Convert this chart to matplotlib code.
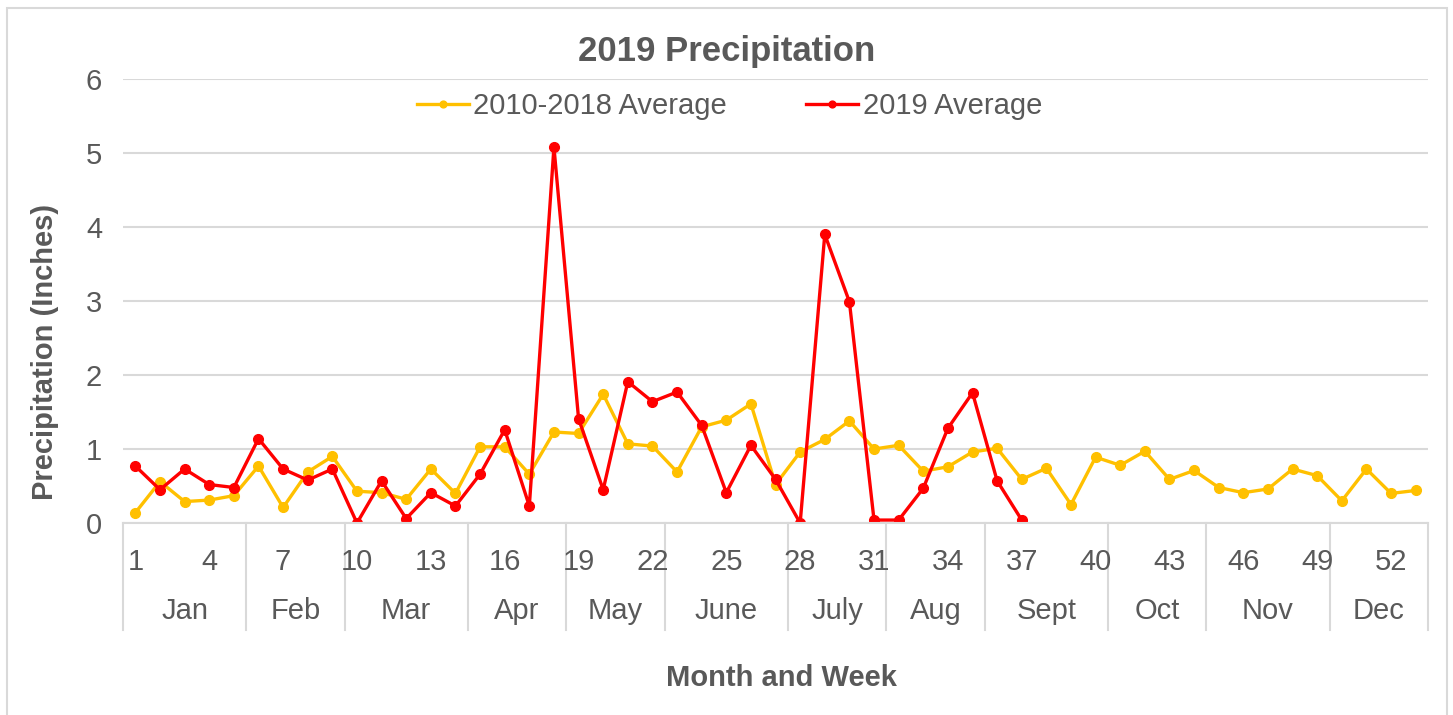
import numpy as np
import matplotlib
matplotlib.use('Agg')
import matplotlib.pyplot as plt
from matplotlib.patches import Rectangle
import matplotlib.transforms as mtransforms

plt.rcParams.update({'font.family': ['Liberation Sans', 'DejaVu Sans'],
                     'figure.facecolor': 'white', 'axes.facecolor': 'white'})
TXT = '#595959'
GRID = '#d9d9d9'
YELLOW = '#FFC000'
RED = '#FF0000'

weeks = list(range(1, 54))
avg_2010_2018 = [0.14, 0.56, 0.29, 0.31, 0.37, 0.77, 0.21, 0.69, 0.90, 0.43,
                 0.41, 0.32, 0.73, 0.40, 1.03, 1.03, 0.66, 1.23, 1.21, 1.74,
                 1.07, 1.04, 0.69, 1.30, 1.39, 1.61, 0.52, 0.96, 1.13, 1.38,
                 1.00, 1.05, 0.70, 0.76, 0.96, 1.01, 0.59, 0.74, 0.25, 0.89,
                 0.78, 0.97, 0.59, 0.71, 0.48, 0.41, 0.46, 0.73, 0.64, 0.30,
                 0.73, 0.40, 0.44]
avg_2019 = [0.77, 0.45, 0.73, 0.52, 0.48, 1.14, 0.73, 0.58, 0.73, 0.00,
            0.57, 0.06, 0.41, 0.23, 0.66, 1.26, 0.23, 5.08, 1.41, 0.45,
            1.91, 1.64, 1.77, 1.32, 0.41, 1.05, 0.59, 0.00, 3.90, 2.99,
            0.04, 0.04, 0.47, 1.28, 1.76, 0.57, 0.04]
avg_2019 = avg_2019 + [np.nan] * (len(weeks) - len(avg_2019))

months = ['Jan', 'Feb', 'Mar', 'Apr', 'May', 'June', 'July', 'Aug', 'Sept', 'Oct', 'Nov', 'Dec']
month_weeks = [5, 4, 5, 4, 4, 5, 4, 4, 5, 4, 5, 4]
tick_weeks = list(range(1, 54, 3))

fig = plt.figure(figsize=(14.53, 7.15), dpi=100)
ax = fig.add_axes([0.0847, 0.2685, 0.8981, 0.621])

ax.plot(weeks, avg_2010_2018, color=YELLOW, lw=2.4, marker='o', ms=7, label='2010-2018 Average')
ax.plot(weeks, avg_2019, color=RED, lw=2.4, marker='o', ms=7, label='2019 Average')

ax.set_xlim(0.5, 53.5)
ax.set_ylim(0, 6)
ax.set_yticks(range(0, 7))
ax.yaxis.grid(True, color=GRID, lw=1.5)
ax.set_axisbelow(True)
for s in ['left', 'right', 'top']:
    ax.spines[s].set_visible(False)
ax.spines['bottom'].set_color(GRID)
ax.spines['bottom'].set_linewidth(1.5)
ax.tick_params(axis='y', length=0, pad=15, labelsize=21, labelcolor=TXT)
ax.set_xticks(tick_weeks)
ax.set_xticklabels([str(w) for w in tick_weeks])
ax.tick_params(axis='x', length=0, pad=18, labelsize=21, labelcolor=TXT)

# month group labels and separators below the axis
trans = mtransforms.blended_transform_factory(ax.transData, ax.transAxes)
edges = np.concatenate([[0], np.cumsum(month_weeks)]) + 0.5
for i, name in enumerate(months):
    ax.text((edges[i] + edges[i + 1]) / 2, -0.198, name, transform=trans,
            ha='center', va='center', fontsize=21, color=TXT)
for e in edges:
    ax.plot([e, e], [0, -0.241], transform=trans, color=GRID, lw=1.5,
            clip_on=False, zorder=0.1)

fig.text(0.5, 0.928, '2019 Precipitation', ha='center', va='center',
         fontsize=25, fontweight='bold', color=TXT)
fig.text(0.5375, 0.052, 'Month and Week', ha='center', va='center',
         fontsize=21, fontweight='bold', color=TXT)
fig.text(0.031, 0.508, 'Precipitation (Inches)', ha='center', va='center',
         rotation=90, fontsize=21, fontweight='bold', color=TXT)

leg = fig.legend(loc='center', bbox_to_anchor=(0.502, 0.852), ncol=2, frameon=False,
                 fontsize=21, handlelength=1.8, handletextpad=0.15, columnspacing=2.7,
                 markerscale=0.7)
for t in leg.get_texts():
    t.set_color(TXT)

fig.patches.append(Rectangle((7 / 1453, -0.01), 1440 / 1453, 1 - 8 / 715 + 0.01,
                             transform=fig.transFigure, fill=False, edgecolor=GRID, lw=1.5))

fig.savefig('out.png', dpi=100)
